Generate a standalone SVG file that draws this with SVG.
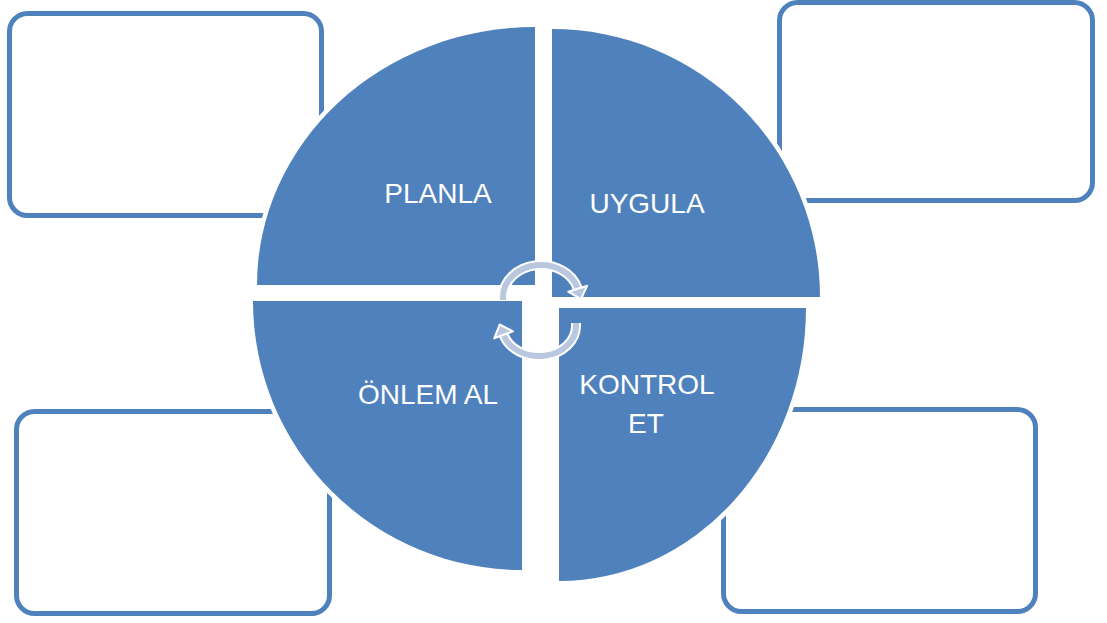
<svg xmlns="http://www.w3.org/2000/svg" width="1107" height="623" viewBox="0 0 1107 623">
  <style>
    .box { fill: #ffffff; stroke: #4F81BD; stroke-width: 5; }
    .quad { fill: #4F81BD; stroke: #ffffff; stroke-width: 9; paint-order: stroke; stroke-linejoin: miter; }
    .lbl { fill: #ffffff; font-family: "Liberation Sans", Arial, sans-serif; font-size: 28px; text-anchor: middle; }
    .arcw { fill: none; stroke: #ffffff; stroke-width: 10; }
    .arcb { fill: none; stroke: #B9C7DF; stroke-width: 6; }
    .head { fill: #B9C7DF; stroke: #ffffff; stroke-width: 2; stroke-linejoin: round; }
  </style>
  <rect width="1107" height="623" fill="#ffffff"/>
  <g id="box-top-left"><rect class="box" x="9.5" y="13.5" width="312" height="202" rx="18"/></g>
  <g id="box-top-right"><rect class="box" x="779.5" y="2.5" width="313" height="198" rx="18"/></g>
  <g id="box-bottom-left"><rect class="box" x="16.5" y="411.5" width="313" height="202" rx="18"/></g>
  <g id="box-bottom-right"><rect class="box" x="723.5" y="409.5" width="312" height="202" rx="18"/></g>

  <g id="planla">
    <path class="quad" d="M535,285 L257,285 A278,258 0 0 1 535,27 Z"/>
    <text class="lbl" x="438" y="203">PLANLA</text>
  </g>
  <g id="uygula">
    <path class="quad" d="M552,297 L552,29 A268,268 0 0 1 820,297 Z"/>
    <text class="lbl" x="647" y="213">UYGULA</text>
  </g>
  <g id="kontrol-et">
    <path class="quad" d="M559,308 L806,308 A247,273 0 0 1 559,581 Z"/>
    <text class="lbl" x="647" y="394">KONTROL</text>
    <text class="lbl" x="646" y="433">ET</text>
  </g>
  <g id="onlem-al">
    <path class="quad" d="M522,301 L522,570 A269,269 0 0 1 253,301 Z"/>
    <text class="lbl" x="428" y="404">ÖNLEM AL</text>
  </g>

  <g id="connectors">
    <path class="arcw" d="M503,300 L503,297 A38,32 0 0 1 577.7,288.7"/>
    <path class="arcb" d="M503,300 L503,297 A38,32 0 0 1 577.7,288.7"/>
    <polygon class="head" points="587.2,285.7 581,299.2 568.2,291.7"/>
    <path class="arcw" d="M576,323 L576,326 A37,30 0 0 1 503.6,334.8"/>
    <path class="arcb" d="M576,323 L576,326 A37,30 0 0 1 503.6,334.8"/>
    <polygon class="head" points="513,331.3 499.7,324.5 494.2,338.3"/>
  </g>
</svg>
